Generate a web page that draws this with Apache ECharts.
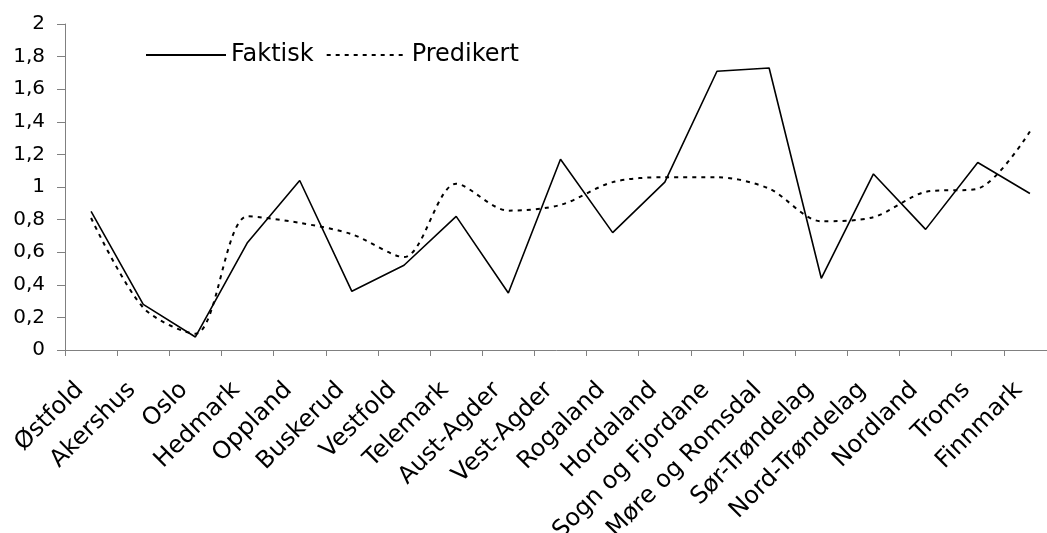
<!DOCTYPE html>
<html>
<head>
<meta charset="utf-8">
<script src="https://cdn.jsdelivr.net/npm/echarts@6/dist/echarts.min.js"></script>
<style>
html,body{margin:0;padding:0;background:#fff;}
#chart{width:1047px;height:533px;}
</style>
</head>
<body>
<div id="chart"></div>
<script>
var categories = ["Østfold","Akershus","Oslo","Hedmark","Oppland","Buskerud","Vestfold","Telemark","Aust-Agder","Vest-Agder","Rogaland","Hordaland","Sogn og Fjordane","Møre og Romsdal","Sør-Trøndelag","Nord-Trøndelag","Nordland","Troms","Finnmark"];
var faktisk = [0.85,0.28,0.08,0.66,1.04,0.36,0.52,0.82,0.35,1.17,0.72,1.03,1.71,1.73,0.44,1.08,0.74,1.15,0.96];
var predikert = [0.81,0.26,0.10,0.82,0.78,0.71,0.57,1.02,0.855,0.89,1.03,1.06,1.06,0.99,0.79,0.815,0.97,0.99,1.34];
var seriesNames = ["Faktisk","Predikert"];

var chart = echarts.init(document.getElementById('chart'), null, {renderer:'canvas'});
var font = 'DejaVu Sans';
chart.setOption({
  animation:false,
  backgroundColor:'#ffffff',
  grid:{left:65,right:-9,top:24,bottom:183,containLabel:false,outerBoundsMode:'none'},
  legend:{
    data:seriesNames,
    left:140, top:38,
    itemWidth:80, itemHeight:14, itemGap:12,
    itemStyle:{opacity:0},
    textStyle:{fontFamily:font,fontSize:24,color:'#000'}
  },
  xAxis:{
    type:'category',
    data:categories,
    boundaryGap:true,
    axisLine:{lineStyle:{color:'#808080',width:1}},
    axisTick:{show:true,length:6,lineStyle:{color:'#808080'}},
    axisLabel:{rotate:45,margin:25,interval:0,color:'#000',fontFamily:font,fontSize:24,padding:[0,16,0,0]}
  },
  yAxis:{
    type:'value',
    min:0,max:2,interval:0.2,
    splitLine:{show:false},
    axisLine:{show:true,lineStyle:{color:'#808080',width:1}},
    axisTick:{show:true,length:8,lineStyle:{color:'#808080'}},
    axisLabel:{margin:20,color:'#000',fontFamily:font,fontSize:20,padding:[8,0,0,0],
      formatter:function(v){return String(Math.round(v*10)/10).replace('.',',');}}
  },
  series:[
    {name:seriesNames[0],type:'line',data:faktisk,symbol:'none',
     lineStyle:{color:'#000',width:1.6,type:'solid'},itemStyle:{color:'#000'}},
    {name:seriesNames[1],type:'line',data:predikert,symbol:'none',smooth:0.3,
     lineStyle:{color:'#000',width:2,type:[4,5]},itemStyle:{color:'#000'}}
  ]
});
</script>
</body>
</html>
